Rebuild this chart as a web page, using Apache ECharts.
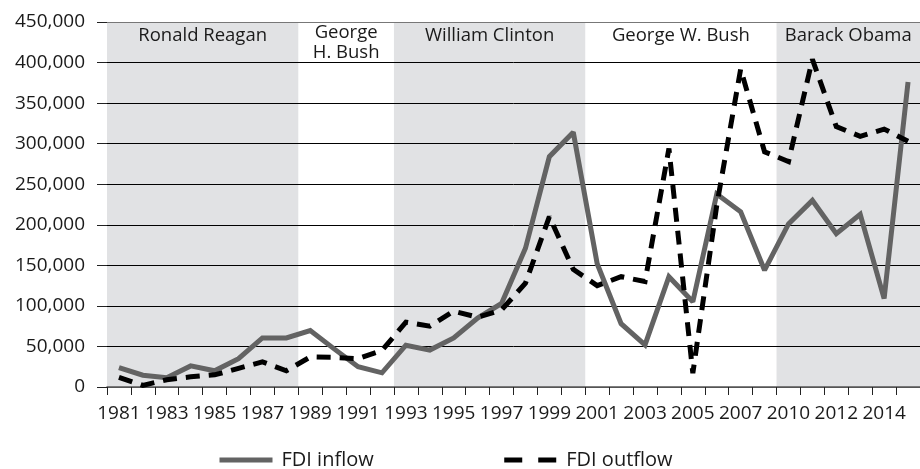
<!DOCTYPE html>
<html>
<head>
<meta charset="utf-8">
<script src="https://cdn.jsdelivr.net/npm/echarts@6/dist/echarts.min.js"></script>
<style>
  html, body { margin: 0; padding: 0; background: #fff; }
  #chart { width: 920px; height: 469px; }
</style>
</head>
<body>
<div id="chart"></div>
<script>
// Category labels (note: the source skips 2009)
const years = ['1981','1982','1983','1984','1985','1986','1987','1988','1989','1990',
  '1991','1992','1993','1994','1995','1996','1997','1998','1999','2000',
  '2001','2002','2003','2004','2005','2006','2007','2008',
  '2010','2011','2012','2013','2014','2015'];

const fdiInflow = [24000, 14500, 11500, 26000, 20000, 35000, 60500, 60500, 69500, 47000,
  25000, 17500, 51500, 45500, 60500, 85000, 103000, 171000, 284000, 314000,
  152000, 78000, 52000, 136000, 105000, 238000, 216000, 144000,
  201000, 230000, 189000, 213000, 109000, 376000];

const fdiOutflow = [12000, 2000, 9000, 12500, 15000, 23000, 31000, 20000, 37000, 36500,
  35000, 45000, 80000, 75000, 93500, 86000, 95000, 128000, 210000, 145000,
  125000, 136000, 130000, 294000, 17000, 224000, 392000, 290000,
  278000, 404000, 321000, 309000, 318000, 303000];

const presidents = ['Ronald Reagan', 'George\nH. Bush', 'William Clinton', 'George W. Bush', 'Barack Obama'];
const termStart = ['1981', '1989', '1993', '2001', '2010'];
const termEnd   = ['1988', '1992', '2000', '2008', '2015'];
const termShaded = [true, false, true, false, true];

const yTicks = { min: 0, max: 450000, interval: 50000 };

const FONT = '"Open Sans", "Noto Sans", sans-serif';
const TXT = '#1a1a1a';

const chart = echarts.init(document.getElementById('chart'), null, { renderer: 'canvas' });

const presData = presidents.map((p, i) => [termStart[i], termEnd[i], 0, i]);

const option = {
  animation: false,
  backgroundColor: '#ffffff',
  textStyle: { fontFamily: FONT },
  grid: { left: 107, top: 22, width: 816, height: 365, containLabel: false },
  legend: {
    left: 217, top: 450, padding: 0,
    itemWidth: 53, itemHeight: 20, itemGap: 128,
    itemStyle: { opacity: 0 },
    lineStyle: { width: 5 },
    textStyle: { fontFamily: FONT, fontSize: 20, color: TXT, padding: [0, 0, 0, 4] },
    data: [
      { name: 'FDI inflow' },
      { name: 'FDI outflow', lineStyle: { width: 5, type: [18, 16] } }
    ]
  },
  xAxis: {
    type: 'category',
    data: years,
    boundaryGap: true,
    axisLine: { show: true, lineStyle: { color: '#555', width: 1.5 } },
    axisTick: { show: true, interval: 0, length: 8, lineStyle: { color: '#222', width: 1 } },
    axisLabel: { interval: 1, margin: 17, fontFamily: FONT, fontSize: 19, color: TXT },
    splitLine: { show: false }
  },
  yAxis: {
    type: 'value',
    min: yTicks.min, max: yTicks.max, interval: yTicks.interval,
    axisLine: { show: false },
    axisTick: { show: true, length: 10, lineStyle: { color: '#222', width: 1 } },
    axisLabel: {
      margin: 22, fontFamily: FONT, fontSize: 19, color: TXT,
      formatter: v => v.toLocaleString('en-US')
    },
    splitLine: {
      show: true,
      lineStyle: {
        color: ['#555', '#000', '#000', '#000', '#000', '#000', '#000', '#000', '#000', '#777'],
        width: 1
      }
    }
  },
  series: [
    {
      type: 'custom',
      name: 'terms',
      z: -1,
      silent: true,
      data: presData,
      encode: { x: [0, 1], y: 2 },
      renderItem: function (params, api) {
        const idx = api.value(3);
        const cs = params.coordSys;
        const bw = api.size([1, 0])[0];
        const x0 = api.coord([api.value(0), 0])[0] - bw / 2;
        const x1 = api.coord([api.value(1), 0])[0] + bw / 2;
        const children = [];
        if (termShaded[idx]) {
          children.push({
            type: 'rect',
            shape: { x: x0, y: cs.y, width: x1 - x0, height: cs.height },
            style: { fill: '#e1e2e4' }
          });
        }
        const multi = presidents[idx].indexOf('\n') >= 0;
        children.push({
          type: 'text',
          x: (x0 + x1) / 2,
          y: multi ? cs.y + 21 : cs.y + 14,
          style: {
            text: presidents[idx],
            fill: TXT,
            font: '18.5px ' + FONT,
            align: 'center',
            verticalAlign: 'middle',
            lineHeight: 20
          }
        });
        return { type: 'group', children: children };
      }
    },
    {
      type: 'line',
      name: 'FDI inflow',
      data: fdiInflow,
      symbol: 'none',
      z: 3,
      lineStyle: { color: '#636363', width: 5, join: 'miter', miterLimit: 2 },
      itemStyle: { color: '#636363' }
    },
    {
      type: 'line',
      name: 'FDI outflow',
      data: fdiOutflow,
      symbol: 'none',
      z: 4,
      lineStyle: { color: '#000', width: 5, type: [14, 9], join: 'miter', miterLimit: 2 },
      itemStyle: { color: '#000' }
    }
  ]
};

chart.setOption(option);
</script>
</body>
</html>
